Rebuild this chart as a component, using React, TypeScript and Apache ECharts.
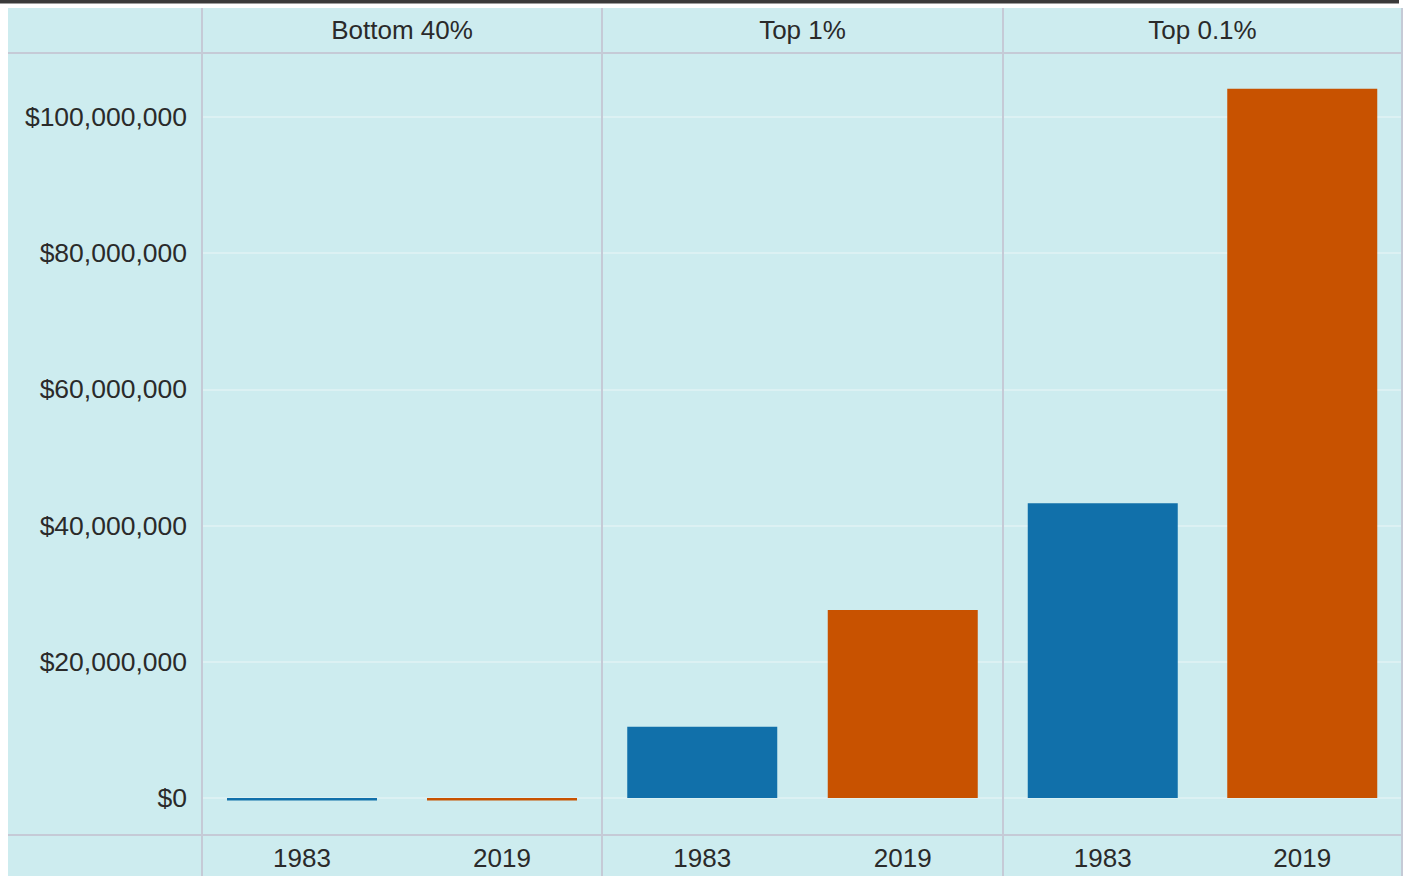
import React, { useEffect, useRef } from 'react';
import * as echarts from 'echarts';

const groups = ['Bottom 40%', 'Top 1%', 'Top 0.1%'];
const years = ['1983', '2019'];
const wealth1983 = [-350000, 10450000, 43300000];
const wealth2019 = [-350000, 27600000, 104150000];
const yTicks = [0, 20000000, 40000000, 60000000, 80000000, 100000000];
const yMin = -5430000;
const yMax = 109400000;
const yearColors = ['#1170aa', '#c85200'];

const W = 1407;
const H = 876;
const panelX = [202, 602, 1003, 1402];
const frameLeft = 8;
const frameTop = 8;
const headerBottom = 53;
const axisTop = 835;
const FONT = '"Liberation Sans", Arial, sans-serif';
const TEXT = '#2a2a2a';
const SEP = '#c5cad6';
const BG = '#cdecef';

export default function App() {
  const ref = useRef<HTMLDivElement>(null);
  useEffect(() => {
    if (!ref.current) return;
    const chart = echarts.init(ref.current, null, { renderer: 'svg' });

    const grids = groups.map((_, i) => ({
      left: panelX[i],
      width: panelX[i + 1] - panelX[i],
      top: headerBottom,
      height: axisTop - headerBottom,
      containLabel: false,
    }));

    const xAxes = groups.map((_, i) => ({
      type: 'category',
      gridIndex: i,
      data: years,
      axisLine: { show: false },
      axisTick: { show: false },
      axisLabel: { color: TEXT, fontSize: 26, fontFamily: FONT, margin: 10 },
    }));

    const yAxes = groups.map((_, i) => ({
      type: 'value',
      gridIndex: i,
      min: yMin,
      max: yMax,
      axisLine: { show: false },
      axisTick: { show: false, customValues: yTicks },
      axisLabel: {
        show: i === 0,
        customValues: yTicks,
        color: TEXT,
        fontSize: 26.5,
        fontFamily: FONT,
        margin: 15,
        formatter: (v: number) => '$' + Math.round(v).toLocaleString('en-US'),
      },
      splitLine: { show: true, lineStyle: { color: '#e0f3f5', width: 1.5 } },
    }));

    const series = groups.map((_, i) => ({
      type: 'bar',
      xAxisIndex: i,
      yAxisIndex: i,
      barWidth: 150,
      data: [
        { value: wealth1983[i], itemStyle: { color: yearColors[0] } },
        { value: wealth2019[i], itemStyle: { color: yearColors[1] } },
      ],
    }));

    const graphics: any[] = [
      { type: 'rect', shape: { x: 0, y: 0, width: frameLeft, height: H }, style: { fill: '#ffffff' }, z: 100 },
      { type: 'rect', shape: { x: 0, y: 0, width: W, height: frameTop }, style: { fill: '#ffffff' }, z: 100 },
      { type: 'rect', shape: { x: panelX[3] + 1, y: 0, width: W - panelX[3], height: H }, style: { fill: '#ffffff' }, z: 100 },
      { type: 'rect', shape: { x: 0, y: 0, width: 1399, height: 3.5 }, style: { fill: '#3a3a3a' }, z: 101 },
      { type: 'line', shape: { x1: frameLeft, y1: headerBottom, x2: panelX[3], y2: headerBottom }, style: { stroke: SEP, lineWidth: 2 }, z: 50 },
      { type: 'line', shape: { x1: frameLeft, y1: axisTop, x2: panelX[3], y2: axisTop }, style: { stroke: SEP, lineWidth: 2 }, z: 50 },
    ];
    panelX.forEach((x) => {
      graphics.push({ type: 'line', shape: { x1: x, y1: frameTop, x2: x, y2: H }, style: { stroke: SEP, lineWidth: 2 }, z: 50 });
    });
    groups.forEach((g, i) => {
      graphics.push({
        type: 'text',
        x: (panelX[i] + panelX[i + 1]) / 2,
        y: 30,
        style: { text: g, fill: TEXT, font: `26px ${FONT}`, textAlign: 'center', textVerticalAlign: 'middle' },
        z: 60,
      });
    });

    chart.setOption({
      animation: false,
      backgroundColor: BG,
      grid: grids,
      xAxis: xAxes,
      yAxis: yAxes,
      series,
      graphic: graphics,
    });
    return () => chart.dispose();
  }, []);
  return <div ref={ref} style={{ position: 'absolute', left: 0, top: 0, width: W, height: H }} />;
}
